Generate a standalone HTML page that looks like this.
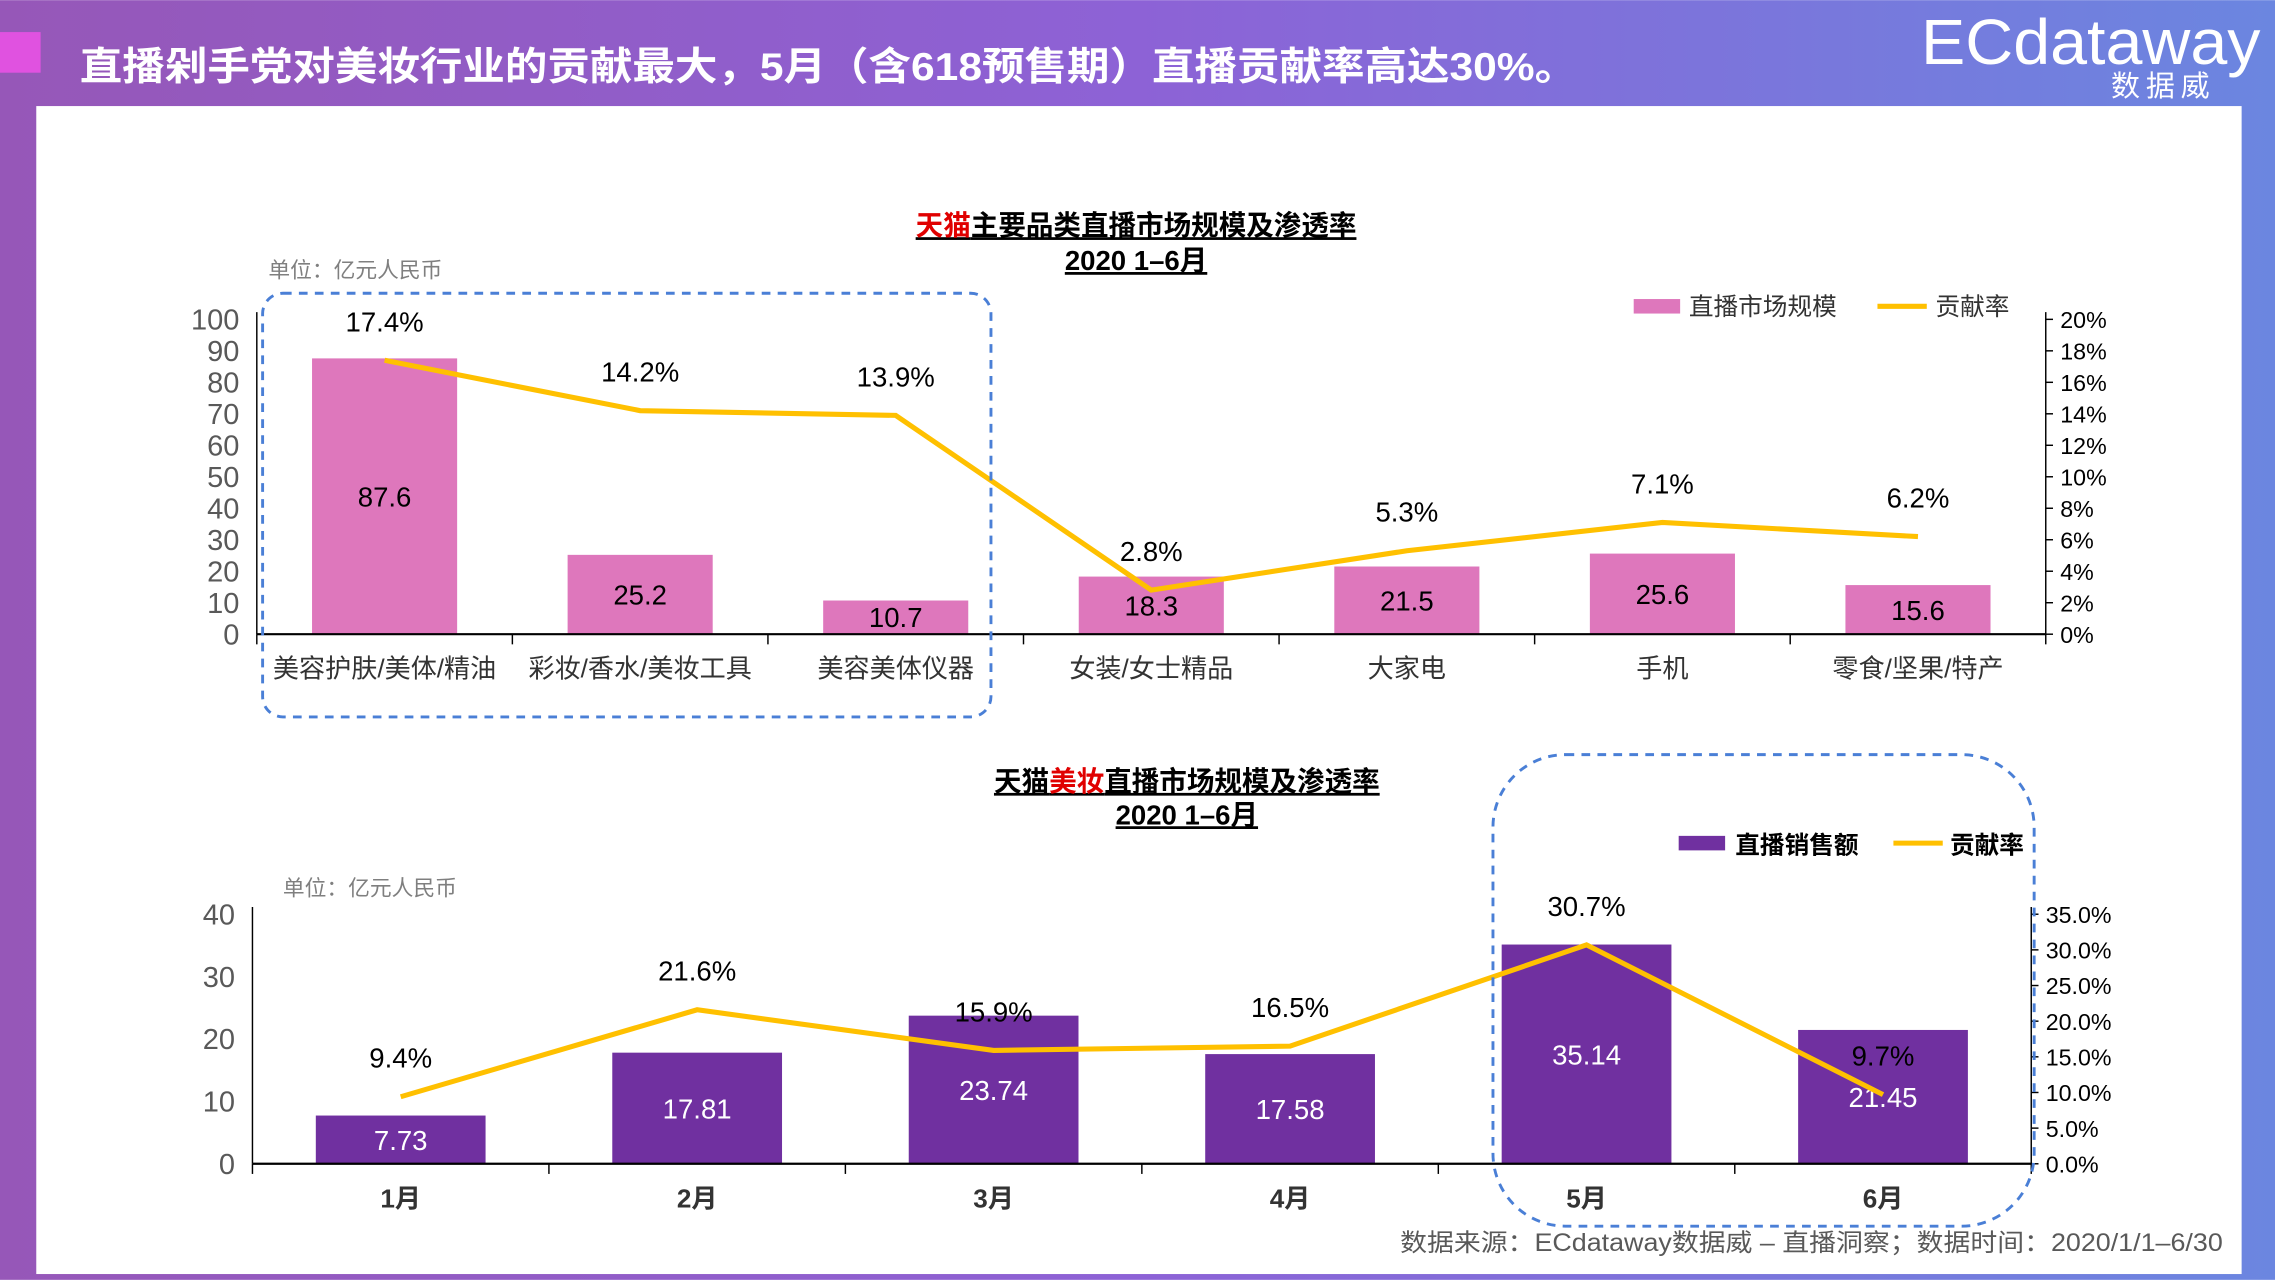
<!DOCTYPE html>
<html><head><meta charset="utf-8"><style>
html,body{margin:0;padding:0;width:2275px;height:1280px;overflow:hidden}
svg{display:block}
text{font-family:"Liberation Sans","Noto Sans CJK SC",sans-serif}
</style></head><body>
<svg id="s" width="2275" height="1280" viewBox="0 0 1568 882" xmlns="http://www.w3.org/2000/svg">
<defs><linearGradient id="bg" x1="0" x2="1" y1="0" y2="0"><stop offset="0" stop-color="#9657b8"/><stop offset="0.5" stop-color="#8d62d6"/><stop offset="1" stop-color="#6b86e0"/></linearGradient></defs>
<rect width="1568" height="882" fill="url(#bg)"/>
<rect x="0" y="22" width="28" height="28" fill="#e052e0"/>
<text x="55" y="55" font-size="27" font-weight="bold" fill="#fff" textLength="1032" lengthAdjust="spacingAndGlyphs">直播剁手党对美妆行业的贡献最大，5月（含618预售期）直播贡献率高达30%。</text>
<text x="1324" y="44" font-size="44" fill="#fff" textLength="234" lengthAdjust="spacingAndGlyphs">ECdataway</text>
<text x="1455" y="66" font-size="20" fill="#fff" letter-spacing="4">数据威</text>
<rect x="25" y="73" width="1520" height="805" fill="#fff"/>
<g id="c1"></g>
<g id="c2"></g>
<text x="965" y="862" font-size="17" fill="#595959" textLength="567" lengthAdjust="spacingAndGlyphs">数据来源：ECdataway数据威 – 直播洞察；数据时间：2020/1/1–6/30</text>
</svg>
<script>
const topCats=["美容护肤/美体/精油","彩妆/香水/美妆工具","美容美体仪器","女装/女士精品","大家电","手机","零食/坚果/特产"];
const topVals=[87.6,25.2,10.7,18.3,21.5,25.6,15.6];
const topRates=[17.4,14.2,13.9,2.8,5.3,7.1,6.2];
const topLeftTicks=[0,10,20,30,40,50,60,70,80,90,100];
const topRightTicks=[0,2,4,6,8,10,12,14,16,18,20];
const botCats=["1月","2月","3月","4月","5月","6月"];
const botVals=[7.73,17.81,23.74,17.58,35.14,21.45];
const botRates=[9.4,21.6,15.9,16.5,30.7,9.7];
const botLeftTicks=[0,10,20,30,40];
const botRightTicks=[0,5,10,15,20,25,30,35];
const NS="http://www.w3.org/2000/svg";
function mk(p,tag,a,txt){const e=document.createElementNS(NS,tag);for(const k in a)e.setAttribute(k,a[k]);if(txt!==undefined)e.textContent=txt;p.appendChild(e);return e;}
function chart(g,o){
  const {cats,vals,rates,lt,rt,x0,x1,y0,y1,lmax,rmax,barW,barColor,valColor,valSize,rateDec}=o;
  const band=(x1-x0)/cats.length;
  const xc=i=>x0+band*(i+0.5);
  const yl=v=>y0-(v/lmax)*(y0-y1);
  const yr=v=>y0-(v/rmax)*(y0-y1);
  lt.forEach(t=>{const e=mk(g,'text',{x:x0-12,y:yl(t)+7,'font-size':20,fill:'#595959','text-anchor':'end'},String(t));
    
    });
  rt.forEach(t=>{const e=mk(g,'text',{x:x1+10,y:yr(t)+6,'font-size':16,fill:'#000'},t.toFixed(rateDec)+'%');
    
    
    const tk=mk(g,'line',{x1:x1,x2:x1+5,y1:yr(t),y2:yr(t),stroke:'#000'});
    
    });
  const la=mk(g,'line',{x1:x0,x2:x0,y1:y1-5,y2:y0,stroke:'#000','stroke-width':1});
  
  
  const ra=mk(g,'line',{x1:x1,x2:x1,y1:y1-5,y2:y0,stroke:'#000','stroke-width':1});
  
  
  vals.forEach((v,i)=>{
    const b=mk(g,'rect',{x:xc(i)-barW/2,y:yl(v),width:barW,height:y0-yl(v),fill:barColor});
    
    
    const t=mk(g,'text',{x:xc(i),y:Math.min((yl(v)+y0)/2+7,y0-5),'font-size':valSize,fill:valColor,'text-anchor':'middle'},String(v));
    
    
    const c=mk(g,'text',{x:xc(i),y:y0+30,'font-size':18,fill:'#333','text-anchor':'middle','font-weight':o.catBold?'bold':'normal'},cats[i]);
    
    
  });
  const xa=mk(g,'line',{x1:x0,x2:x1,y1:y0,y2:y0,stroke:'#000','stroke-width':1.5});
  
  
  for(let i=0;i<=cats.length;i++){const t=mk(g,'line',{x1:x0+band*i,x2:x0+band*i,y1:y0,y2:y0+7,stroke:'#000'});
    
    }
  const pl=mk(g,'polyline',{points:rates.map((r,i)=>xc(i)+','+yr(r)).join(' '),fill:'none',stroke:'#ffc000','stroke-width':3.5});
  
  
  rates.forEach((r,i)=>{const t=mk(g,'text',{x:xc(i),y:yr(r)-20,'font-size':19,fill:'#000','text-anchor':'middle'},r.toFixed(1)+'%');
    
    });
}
const g1=document.getElementById('c1'),g2=document.getElementById('c2');
chart(g1,{cats:topCats,vals:topVals,rates:topRates,lt:topLeftTicks,rt:topRightTicks,x0:177,x1:1410,y0:437,y1:220,lmax:100,rmax:20,barW:100,barColor:'#de77bc',valColor:'#000',valSize:19,rateDec:0});
chart(g2,{cats:botCats,vals:botVals,rates:botRates,lt:botLeftTicks,rt:botRightTicks,x0:174,x1:1400,y0:802,y1:630,lmax:40,rmax:35,barW:117,barColor:'#7030a0',valColor:'#fff',valSize:19,rateDec:1,catBold:true});
function txt(p,a,s,name){const e=mk(p,'text',a,s);return e;}
const T1=txt(g1,{x:783,y:162,'font-size':19,'font-weight':'bold','text-anchor':'middle','text-decoration':'underline'},'','top-chart-title');
mk(T1,'tspan',{fill:'#e00000'},'天猫');mk(T1,'tspan',{fill:'#000'},'主要品类直播市场规模及渗透率');
txt(g1,{x:783,y:186,'font-size':19,'font-weight':'bold','text-anchor':'middle','text-decoration':'underline'},'2020 1–6月','top-chart-subtitle');
txt(g1,{x:185,y:191,'font-size':15,fill:'#7f7f7f'},'单位：亿元人民币','top-unit-label');
const T2=txt(g2,{x:818,y:545,'font-size':19,'font-weight':'bold','text-anchor':'middle','text-decoration':'underline'},'','bottom-chart-title');
mk(T2,'tspan',{fill:'#000'},'天猫');mk(T2,'tspan',{fill:'#e00000'},'美妆');mk(T2,'tspan',{fill:'#000'},'直播市场规模及渗透率');
txt(g2,{x:818,y:568,'font-size':19,'font-weight':'bold','text-anchor':'middle','text-decoration':'underline'},'2020 1–6月','bottom-chart-subtitle');
txt(g2,{x:195,y:617,'font-size':15,fill:'#7f7f7f'},'单位：亿元人民币','bottom-unit-label');
let r=mk(g1,'rect',{x:1126,y:206,width:32,height:10,fill:'#de77bc'});
txt(g1,{x:1164,y:217,'font-size':17,fill:'#333'},'直播市场规模','legend-bar-label');
r=mk(g1,'line',{x1:1294,x2:1328,y1:211,y2:211,stroke:'#ffc000','stroke-width':3.5});
txt(g1,{x:1334,y:217,'font-size':17,fill:'#333'},'贡献率','legend-line-label');
r=mk(g2,'rect',{x:1157,y:576,width:32,height:10,fill:'#7030a0'});
txt(g2,{x:1196,y:588,'font-size':17,fill:'#000','font-weight':'bold'},'直播销售额','legend-bar-label');
r=mk(g2,'line',{x1:1305,x2:1339,y1:581,y2:581,stroke:'#ffc000','stroke-width':3.5});
txt(g2,{x:1344,y:588,'font-size':17,fill:'#000','font-weight':'bold'},'贡献率','legend-line-label');
r=mk(g1,'rect',{x:181,y:202,width:502,height:292,rx:14,fill:'none',stroke:'#4a7fd6','stroke-width':2,'stroke-dasharray':'6,5'});
r=mk(g2,'rect',{x:1029,y:520,width:373,height:325,rx:50,fill:'none',stroke:'#4a7fd6','stroke-width':2,'stroke-dasharray':'6,5'});
</script>
</body></html>
